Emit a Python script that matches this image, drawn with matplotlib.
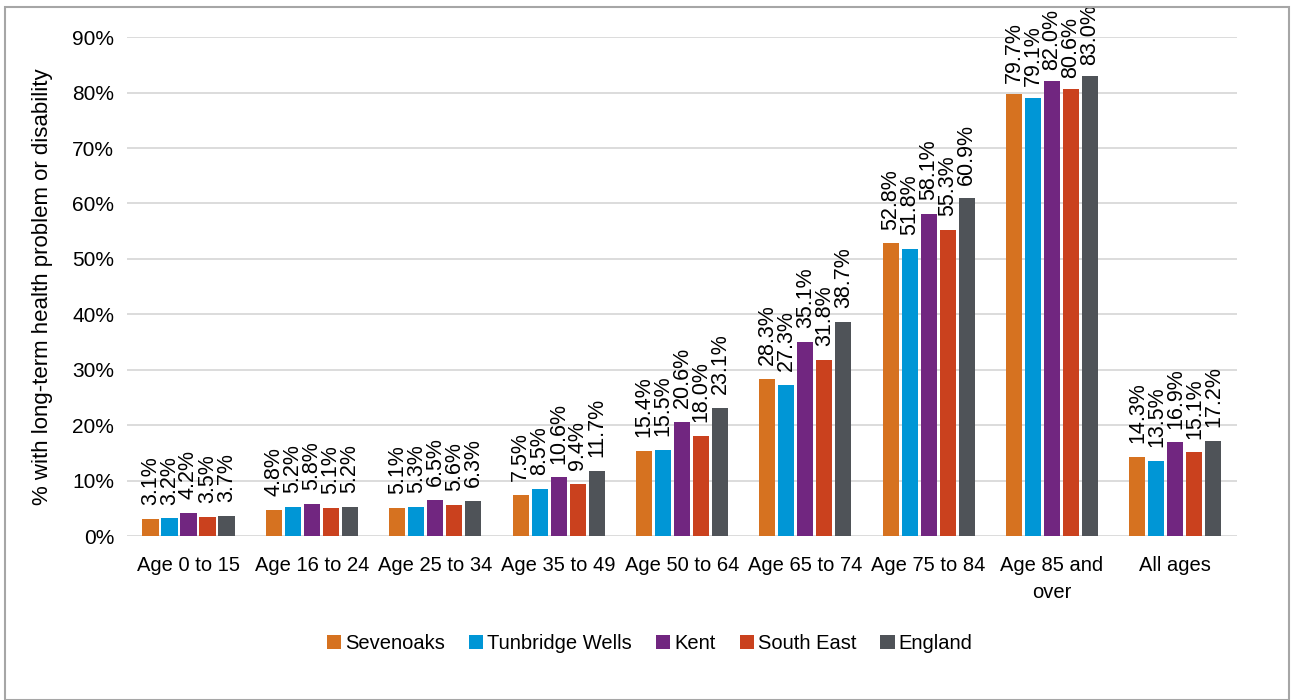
import numpy as np
import matplotlib.pyplot as plt
from matplotlib.patches import Rectangle
from matplotlib.ticker import FuncFormatter

plt.rcParams['font.family'] = ['Liberation Sans', 'DejaVu Sans']

categories = ['Age 0 to 15', 'Age 16 to 24', 'Age 25 to 34', 'Age 35 to 49', 'Age 50 to 64',
              'Age 65 to 74', 'Age 75 to 84', 'Age 85 and\nover', 'All ages']
series_names = ['Sevenoaks', 'Tunbridge Wells', 'Kent', 'South East', 'England']
sevenoaks = [3.1, 4.8, 5.1, 7.5, 15.4, 28.3, 52.8, 79.7, 14.3]
tunbridge_wells = [3.2, 5.2, 5.3, 8.5, 15.5, 27.3, 51.8, 79.1, 13.5]
kent = [4.2, 5.8, 6.5, 10.6, 20.6, 35.1, 58.1, 82.0, 16.9]
south_east = [3.5, 5.1, 5.6, 9.4, 18.0, 31.8, 55.3, 80.6, 15.1]
england = [3.7, 5.2, 6.3, 11.7, 23.1, 38.7, 60.9, 83.0, 17.2]
colors = ['#D67220', '#0096D6', '#712680', '#CA411E', '#4F5358']

series = [sevenoaks, tunbridge_wells, kent, south_east, england]

fig = plt.figure(figsize=(12.94, 7), dpi=100)
ax = fig.add_axes([0.098, 0.234, 0.858, 0.713])

x = np.arange(len(categories))
step = 0.154
width = 0.13
for i, (name, vals, col) in enumerate(zip(series_names, series, colors)):
    pos = x + (i - 2) * step
    ax.bar(pos, vals, width=width, color=col, label=name, zorder=3)
    for p, v in zip(pos, vals):
        # labels near the top get squeezed down a little, like in the original
        off = 10 if v < 75 else 8
        ax.annotate(f'{v:.1f}%', (p, v), xytext=(0, off), textcoords='offset points',
                    rotation=90, ha='center', va='bottom', fontsize=15.5,
                    clip_on=False, annotation_clip=False)

ax.set_xlim(-0.5, len(categories) - 0.5)
ax.set_ylim(0, 90)
ax.set_yticks(np.arange(0, 91, 10))
ax.yaxis.set_major_formatter(FuncFormatter(lambda v, _: f'{v:.0f}%'))
ax.set_xticks(x)
ax.set_xticklabels(categories, fontsize=14.5, linespacing=1.55)
ax.tick_params(axis='y', labelsize=15, length=0, pad=9)
ax.tick_params(axis='x', length=0, pad=14)
ax.grid(axis='y', color='#D9D9D9', linewidth=1.3, zorder=0)
for s in ax.spines.values():
    s.set_visible(False)
ax.set_ylabel('% with long-term health problem or disability', fontsize=16, labelpad=14)

fig.legend(loc='center', bbox_to_anchor=(0.502, 0.081), ncol=5, frameon=False,
           fontsize=14.5, handlelength=0.7, handleheight=0.7, handletextpad=0.2,
           columnspacing=1.2)

fig.patches.append(Rectangle((0.004, 0.0), 0.992, 0.99, transform=fig.transFigure,
                             fill=False, edgecolor='#A6A6A6', linewidth=1.5))

fig.savefig('out.png', dpi=100)
